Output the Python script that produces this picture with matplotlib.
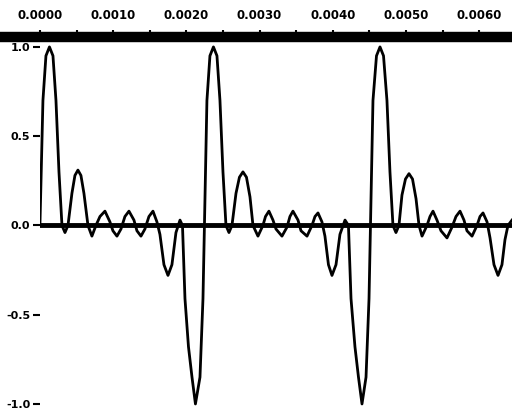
"""
Pulse-train waveform with the time axis drawn along the top.
"""

import numpy as np
import matplotlib
matplotlib.use('Agg')
import matplotlib.pyplot as plt
from matplotlib.lines import Line2D
from matplotlib.ticker import MultipleLocator, FormatStrFormatter

# Waveform samples (time in ms, amplitude)
time_ms = [
    0.000, 0.041, 0.082, 0.130, 0.178, 0.219, 0.260, 0.301, 0.342, 0.383,
    0.437, 0.478, 0.519, 0.560, 0.601, 0.656, 0.710, 0.765, 0.820, 0.888,
    0.956, 0.997, 1.052, 1.107, 1.161, 1.216, 1.284, 1.325, 1.380, 1.434,
    1.489, 1.544, 1.598, 1.639, 1.694, 1.749, 1.803, 1.858, 1.913, 1.947,
    1.981, 2.029, 2.077, 2.124, 2.186, 2.227, 2.247, 2.281, 2.322, 2.370,
    2.418, 2.459, 2.500, 2.541, 2.582, 2.623, 2.678, 2.725, 2.773, 2.821,
    2.869, 2.910, 2.978, 3.046, 3.081, 3.128, 3.183, 3.224, 3.306, 3.374,
    3.415, 3.456, 3.525, 3.566, 3.648, 3.716, 3.757, 3.798, 3.852, 3.893,
    3.941, 3.989, 4.044, 4.098, 4.167, 4.214, 4.249, 4.303, 4.351, 4.399,
    4.454, 4.495, 4.515, 4.549, 4.597, 4.645,
    4.693, 4.740, 4.781, 4.822, 4.863, 4.904, 4.945, 4.993, 5.041, 5.089,
    5.137, 5.178, 5.219, 5.287, 5.328, 5.369, 5.423, 5.478, 5.560, 5.628,
    5.683, 5.738, 5.792, 5.833, 5.902, 5.970, 6.011, 6.052, 6.107, 6.148,
    6.202, 6.257, 6.311, 6.352, 6.393, 6.448,
]
amplitude = [
    0.00, 0.70, 0.95, 1.00, 0.95, 0.70, 0.30, 0.00, -0.04, 0.00,
    0.18, 0.28, 0.31, 0.28, 0.18, 0.00, -0.06, 0.00, 0.05, 0.08,
    0.02, -0.03, -0.06, -0.02, 0.05, 0.08, 0.03, -0.03, -0.06, -0.02,
    0.05, 0.08, 0.02, -0.05, -0.22, -0.28, -0.22, -0.04, 0.03, 0.00,
    -0.41, -0.68, -0.85, -1.00, -0.85, -0.41, 0.00, 0.70, 0.95, 1.00,
    0.95, 0.70, 0.30, 0.00, -0.04, 0.00, 0.18, 0.27, 0.30, 0.27,
    0.16, 0.00, -0.06, 0.00, 0.05, 0.08, 0.03, -0.02, -0.06, -0.01,
    0.05, 0.08, 0.03, -0.03, -0.06, 0.00, 0.05, 0.07, 0.02, -0.06,
    -0.22, -0.28, -0.22, -0.05, 0.03, 0.00, -0.41, -0.68, -0.85, -1.00,
    -0.85, -0.41, 0.00, 0.70, 0.95, 1.00,
    0.95, 0.70, 0.30, 0.00, -0.04, 0.00, 0.17, 0.26, 0.29, 0.26,
    0.15, 0.00, -0.06, 0.00, 0.05, 0.08, 0.03, -0.03, -0.07, -0.01,
    0.05, 0.08, 0.03, -0.03, -0.06, 0.00, 0.05, 0.07, 0.02, -0.07,
    -0.22, -0.28, -0.22, -0.08, 0.00, 0.03,
]
y_ticks = [-1.0, -0.5, 0.0, 0.5, 1.0]

t = np.array(time_ms) / 1000.0
v = np.array(amplitude)

plt.rcParams['font.family'] = ['DejaVu Sans']
plt.rcParams['font.weight'] = 'bold'

fig = plt.figure(figsize=(5.12, 4.12), dpi=100)
ax_top = 0.910
ax = fig.add_axes([0.078, 0.0, 0.922, ax_top])

# Zero line and the signal itself
ax.axhline(0.0, color='k', lw=3.5, zorder=2)
ax.plot(t, v, color='k', lw=2.0, zorder=3)

ax.set_xlim(0.0, t[-1])
ax.set_ylim(-1.045, 1.055)

# Time axis lives on top, with a heavy bar running the full width
ax.xaxis.tick_top()
ax.xaxis.set_major_locator(MultipleLocator(0.001))
ax.xaxis.set_minor_locator(MultipleLocator(0.0005))
ax.xaxis.set_major_formatter(FormatStrFormatter('%.4f'))
ax.tick_params(axis='x', which='both', direction='out', length=5, width=1.5,
               labelsize=8.5, pad=6)
ax.set_yticks(y_ticks)
ax.yaxis.set_major_formatter(FormatStrFormatter('%.1f'))
ax.tick_params(axis='y', direction='out', length=5, width=1.5, labelsize=8, pad=2)

for side in ['left', 'right', 'bottom', 'top']:
    ax.spines[side].set_visible(False)
fig.add_artist(Line2D([0.0, 1.0], [ax_top, ax_top], transform=fig.transFigure,
                      color='k', lw=7.5, solid_capstyle='butt'))

for lab in ax.get_xticklabels() + ax.get_yticklabels():
    lab.set_fontweight('bold')

fig.savefig('out.png', dpi=100)
plt.close(fig)
